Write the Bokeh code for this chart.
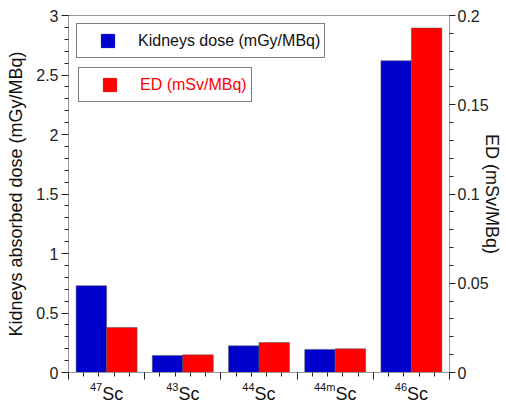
import numpy as np
from bokeh.plotting import figure
from bokeh.models import (ColumnDataSource, Range1d, LinearAxis, FixedTicker,
                          Legend, LegendItem)
from bokeh.transform import dodge
from bokeh.core.properties import value
from bokeh.embed import file_html
from bokeh.resources import INLINE

# ---- data ----
isotopes = ["47Sc", "43Sc", "44Sc", "44mSc", "46Sc"]
mass_numbers = ["47", "43", "44", "44m", "46"]
element = ["Sc", "Sc", "Sc", "Sc", "Sc"]
kidney_dose = [0.73, 0.143, 0.224, 0.194, 2.62]      # mGy/MBq (left axis)
ed_dose = [0.0252, 0.0099, 0.0168, 0.0133, 0.193]    # mSv/MBq (right axis)
kid_max, ed_max = 3.0, 0.2

FONT = "Liberation Sans"
BLUE = "#0000CC"
RED = "#FF0000"
W, H = 506, 400
# layout of the plotting area in pixels (axes are pinned inside a full-canvas frame)
AX_L, AX_R, AX_T, AX_B = 68, 449, 15, 372

n = len(isotopes)
ppx = (AX_R - AX_L) / n
ppy = (AX_B - AX_T) / kid_max
x_rng = Range1d(-AX_L / ppx, n + (W - AX_R) / ppx)
y_lo = -(H - AX_B) / ppy
y_hi = kid_max + AX_T / ppy
y_rng = Range1d(y_lo, y_hi)

centers = list(np.arange(n) + 0.5)
src = ColumnDataSource(dict(x=centers, kid=kidney_dose, ed=ed_dose, iso=isotopes))

p = figure(width=W, height=H, output_backend="svg", toolbar_location=None,
           x_range=x_rng, y_range=y_rng, x_axis_type=None, y_axis_type=None,
           min_border_left=0, min_border_right=0, min_border_top=0, min_border_bottom=0)
p.extra_y_ranges = {"ed": Range1d(y_lo * ed_max / kid_max, y_hi * ed_max / kid_max)}
p.xgrid.visible = False
p.ygrid.visible = False
p.outline_line_color = None
p.background_fill_color = "white"
p.border_fill_color = "white"

kb = p.vbar(x=dodge("x", -0.2), top="kid", width=0.4, source=src,
            fill_color=BLUE, line_color="#555555", line_width=0.5)
eb = p.vbar(x=dodge("x", 0.2), top="ed", width=0.4, source=src, y_range_name="ed",
            fill_color=RED, line_color="#555555", line_width=0.5)

def style_axis(ax, label_size="16px"):
    ax.axis_line_color = "#999999"
    ax.major_tick_line_color = "#222222"
    ax.minor_tick_line_color = "#222222"
    ax.major_label_text_font = FONT
    ax.major_label_text_font_size = label_size
    ax.major_label_text_color = "#222222"
    ax.axis_label_text_font = FONT
    ax.axis_label_text_font_size = "18px"
    ax.axis_label_text_font_style = "normal"
    ax.axis_label_text_color = "#111111"

# left axis
yl = LinearAxis(axis_label="Kidneys absorbed dose (mGy/MBq)", fixed_location=0,
                bounds=(0, kid_max),
                ticker=FixedTicker(ticks=[0, 0.5, 1, 1.5, 2, 2.5, 3],
                                   minor_ticks=list(np.round(np.arange(0, 3.001, 0.1), 2))))
style_axis(yl)
yl.major_label_overrides = {0: "0", 1: "1", 2: "2", 3: "3"}
yl.major_tick_out = 7
yl.major_tick_in = 0
yl.minor_tick_out = 4
yl.minor_tick_in = 0
yl.major_label_standoff = 3
yl.axis_label_standoff = 7
p.add_layout(yl, "left")

# right axis
yr = LinearAxis(y_range_name="ed", axis_label="ED (mSv/MBq)", fixed_location=n,
                bounds=(0, ed_max),
                ticker=FixedTicker(ticks=[0, 0.05, 0.1, 0.15, 0.2],
                                   minor_ticks=list(np.round(np.arange(0, 0.2001, 0.01), 3))))
style_axis(yr)
yr.major_label_overrides = {0: "0"}
yr.major_tick_out = 6
yr.major_tick_in = 0
yr.minor_tick_out = 4
yr.minor_tick_in = 0
yr.major_label_standoff = 2
yr.axis_label_standoff = -10
p.add_layout(yr, "right")

# bottom axis: group boundaries as major ticks, minor ticks in between
xb = LinearAxis(fixed_location=0, bounds=(0, n),
                ticker=FixedTicker(ticks=list(range(n + 1)),
                                   minor_ticks=list(np.round(np.arange(0, n + 0.001, 0.2), 2))))
style_axis(xb)
xb.major_label_overrides = {i: "" for i in range(n + 1)}
xb.major_tick_out = 7
xb.major_tick_in = 0
xb.minor_tick_out = 4
xb.minor_tick_in = 0
p.add_layout(xb, "below")

# top frame line
xt = LinearAxis(fixed_location=kid_max, bounds=(0, n), ticker=FixedTicker(ticks=[]))
xt.axis_line_color = "#999999"
xt.major_label_text_font_size = "0px"
p.add_layout(xt, "above")

# category labels with superscript mass numbers, centred under each group
sup_w = [len(m) * 6.1 + (3.1 if m.endswith("m") else 0) for m in mass_numbers]
lab_src = ColumnDataSource(dict(x=centers, mass=mass_numbers, el=element,
                                off=[(w - 21.0) / 2.0 for w in sup_w]))
p.text(x="x", y=0, text="mass", source=lab_src, x_offset="off", y_offset=14,
       text_align="right", text_baseline="alphabetic", text_font=value(FONT),
       text_font_size="11px", text_color="#111111")
p.text(x="x", y=0, text="el", source=lab_src, x_offset="off", y_offset=21,
       text_align="left", text_baseline="alphabetic", text_font=value(FONT),
       text_font_size="18px", text_color="#111111")

# legend proxies (square markers)
kprox = p.scatter(x=[np.nan], y=[np.nan], marker="square", fill_color=BLUE, line_color=BLUE)
eprox = p.scatter(x=[np.nan], y=[np.nan], marker="square", fill_color=RED, line_color=RED)

def make_legend(label, rend, color, loc, lw):
    return Legend(items=[LegendItem(label=label, renderers=[rend])], location=loc,
                  orientation="vertical", padding=0, margin=0, spacing=0,
                  glyph_width=61, glyph_height=33, label_standoff=0, label_width=lw,
                  border_line_color="black", border_line_width=1,
                  background_fill_color="white", background_fill_alpha=1.0,
                  label_text_font=FONT, label_text_font_size="16px",
                  label_text_color=color)

p.add_layout(make_legend("Kidneys dose (mGy/MBq)", kprox, "#111111", (76, H - 58), 186), "center")
p.add_layout(make_legend("ED (mSv/MBq)", eprox, RED, (78, H - 102), 111), "center")

open("out.html", "w").write(file_html(p, INLINE))
